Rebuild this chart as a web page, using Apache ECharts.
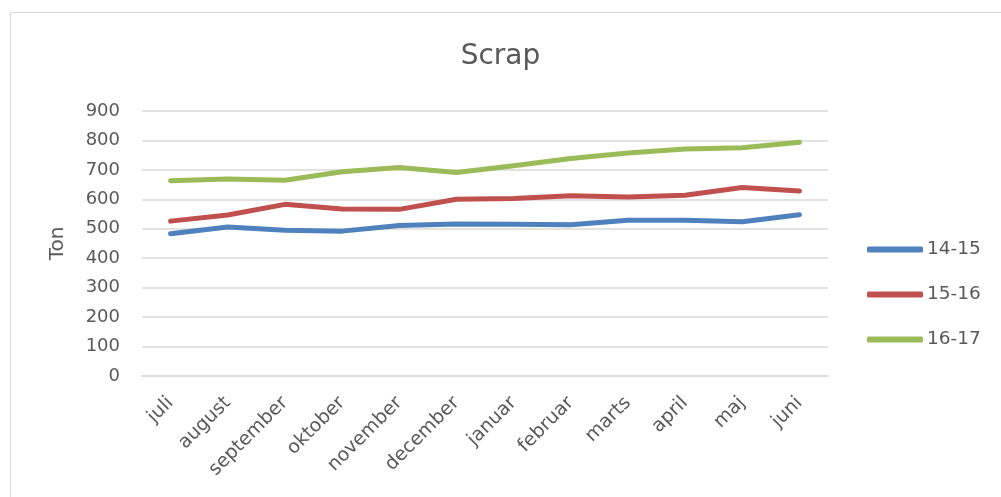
<!DOCTYPE html>
<html><head><meta charset="utf-8">
<script src="https://cdn.jsdelivr.net/npm/echarts@6/dist/echarts.min.js"></script>
<style>html,body{margin:0;padding:0;background:#fff}#c{width:1001px;height:497px}</style>
</head><body><div id="c"></div>
<script>
const categories = ["juli","august","september","oktober","november","december","januar","februar","marts","april","maj","juni"];
const s1415 = [483,506,495,492,511,516,515,514,529,529,524,548];
const s1516 = [526,547,583,567,566,600,603,612,608,614,640,628];
const s1617 = [663,669,665,694,708,691,714,739,757,771,775,794];
const yTicks = [0,100,200,300,400,500,600,700,800,900];
const seriesNames = ["14-15","15-16","16-17"];
const colors = ["#4F81BD","#C0504D","#9BBB59"];
const font = "'DejaVu Sans', sans-serif";
const chart = echarts.init(document.getElementById('c'));
const data = [s1415, s1516, s1617];
chart.setOption({
  animation:false,
  textStyle:{fontFamily:font},
  graphic:[{type:'rect',shape:{x:10.5,y:12.5,width:1000,height:500},style:{fill:null,stroke:'#d9d9d9',lineWidth:1},silent:true}],
  title:{text:'Scrap',left:'center',top:43,padding:0,textStyle:{fontFamily:font,fontSize:28,fontWeight:'normal',color:'#595959'}},
  legend:{orient:'vertical',left:867,top:240,padding:0,itemGap:26,itemWidth:56,itemHeight:6,icon:'roundRect',
    textStyle:{fontFamily:font,fontSize:18.5,color:'#595959',padding:[0,0,0,-1]},
    data:seriesNames},
  grid:{left:142,right:1001-828,top:111,bottom:497-376},
  xAxis:{type:'category',data:categories,boundaryGap:true,
    axisLine:{show:true,lineStyle:{color:'#d9d9d9',width:1.5}},axisTick:{show:false},
    axisLabel:{rotate:45,fontFamily:font,fontSize:19,color:'#595959',margin:24,interval:0}},
  yAxis:{type:'value',min:0,max:900,interval:100,name:'Ton',nameLocation:'middle',nameGap:74,
    nameTextStyle:{fontFamily:font,fontSize:20,color:'#595959'},
    axisLine:{show:false},axisTick:{show:false},
    axisLabel:{fontFamily:font,fontSize:18,color:'#595959',margin:22,
      formatter:v=>yTicks.includes(v)?String(v):''},
    splitLine:{lineStyle:{color:'#d9d9d9',width:1.5}}},
  series:seriesNames.map((n,i)=>({name:n,type:'line',data:data[i],symbol:'none',
    lineStyle:{color:colors[i],width:5,cap:'round',join:'round'},itemStyle:{color:colors[i]}}))
});
</script></body></html>
